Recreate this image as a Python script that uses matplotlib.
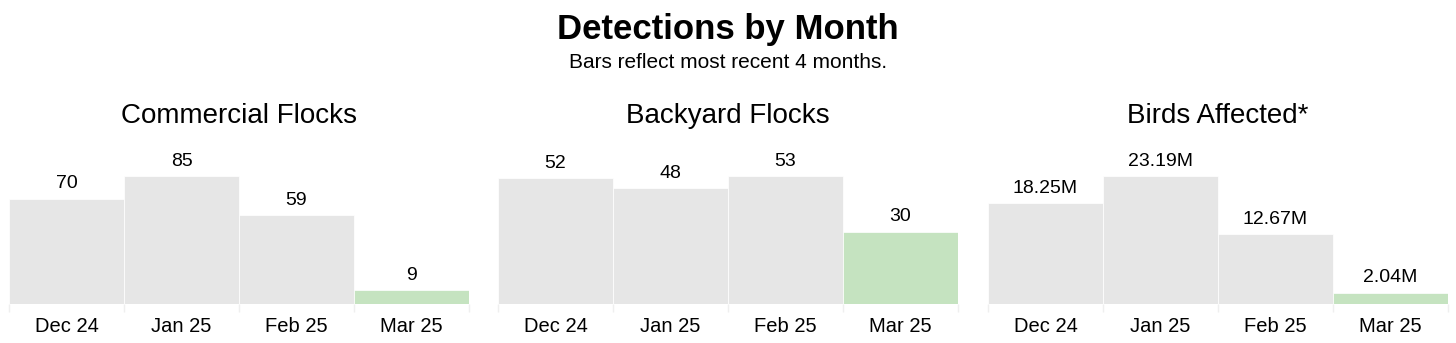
import matplotlib.pyplot as plt

months = ["Dec 24", "Jan 25", "Feb 25", "Mar 25"]
commercial = [70, 85, 59, 9]
backyard = [52, 48, 53, 30]
birds = [18.25, 23.19, 12.67, 2.04]  # millions

panel_titles = ["Commercial Flocks", "Backyard Flocks", "Birds Affected*"]
panel_data = [commercial, backyard, birds]
panel_fmt = ["{:g}", "{:g}", "{:.2f}M"]

GRAY = "#e6e6e6"
GREEN = "#c5e3c0"

plt.rcParams['font.family'] = ['Liberation Sans', 'DejaVu Sans']

fig = plt.figure(figsize=(14.56, 3.43), dpi=100)

fig.text(0.5, 1 - 29 / 343, "Detections by Month", ha='center', va='center',
         fontsize=25, fontweight='bold')
fig.text(0.5, 1 - 62 / 343, "Bars reflect most recent 4 months.", ha='center',
         va='center', fontsize=15)

lefts = [9, 498, 988]
ax_w = 460 / 1456
ax_b = 1 - 304 / 343
ax_h = 164 / 343

for i in range(3):
    ax = fig.add_axes([lefts[i] / 1456, ax_b, ax_w, ax_h])
    vals = panel_data[i]
    colors = [GRAY, GRAY, GRAY, GREEN]
    x = list(range(len(months)))
    ax.bar(x, vals, width=1.0, color=colors, edgecolor='white', linewidth=0.5)
    ax.set_xlim(-0.5, 3.5)
    ax.set_ylim(0, max(vals) * 164 / 128)
    for xi, v in zip(x, vals):
        ax.annotate(panel_fmt[i].format(v), (xi, v), xytext=(0, 7.5),
                    textcoords='offset points', ha='center', va='baseline',
                    fontsize=14)
    ax.set_xticks(x)
    ax.set_xticklabels(months, fontsize=14.5)
    ax.tick_params(axis='x', which='major', length=0, pad=9)
    ax.set_xticks([-0.5, 0.5, 1.5, 2.5, 3.5], minor=True)
    ax.tick_params(axis='x', which='minor', length=6, color='#efefef', width=1)
    ax.set_yticks([])
    for s in ax.spines.values():
        s.set_visible(False)
    fig.text((lefts[i] + 230) / 1456, 1 - 116 / 343, panel_titles[i],
             ha='center', va='center', fontsize=20)

fig.savefig("out.png", dpi=100)
